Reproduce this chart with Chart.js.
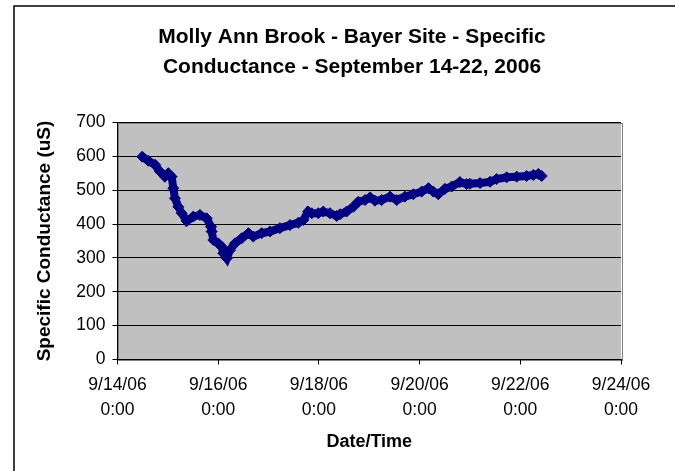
<!DOCTYPE html>
<html><head><meta charset="utf-8">
<script src="https://cdn.jsdelivr.net/npm/chart.js@4.4.0/dist/chart.umd.min.js"></script>
<style>html,body{margin:0;padding:0;background:#fff;overflow:hidden}canvas{display:block}</style>
</head><body>
<canvas id="c" width="675" height="471" style="width:675px;height:471px"></canvas>
<script>
const titleLines = ['Molly Ann Brook - Bayer Site - Specific', 'Conductance - September 14-22, 2006'];
const yAxisTitle = 'Specific Conductance (uS)';
const xAxisTitle = 'Date/Time';
const dateLabels = ['9/14/06', '9/16/06', '9/18/06', '9/20/06', '9/22/06', '9/24/06'];
const timeLabel = '0:00';
// hours after 9/14/06 0:00
const hoursSinceStart = [11.8, 14.7, 17.9, 20.3, 22.6, 24.2, 25.8, 26.6, 27.4, 29.0, 30.6, 33.0, 36.1, 39.3, 42.5, 44.6, 44.9, 45.7, 48.0, 49.7, 50.4, 52.1, 53.6, 56.0, 59.2, 62.4, 64.7, 68.7, 72.7, 77.4, 82.2, 86.2, 88.6, 90.9, 92.6, 95.7, 98.1, 101.3, 104.5, 106.1, 109.2, 112.4, 114.8, 118.0, 120.4, 122.7, 125.9, 129.9, 133.1, 137.0, 141.0, 145.0, 148.2, 150.5, 152.9, 156.1, 159.3, 163.2, 166.4, 168.0, 172.8, 177.6, 180.7, 185.5, 190.3, 195.0, 198.2, 200.6, 202.2];
const conductance = [599, 587, 575, 555, 540, 550, 540, 506, 476, 451, 432, 409, 422, 427, 417, 392, 378, 353, 343, 333, 314, 299, 323, 343, 358, 373, 363, 373, 378, 388, 397, 404, 412, 437, 432, 432, 437, 432, 424, 429, 437, 451, 466, 471, 479, 469, 471, 481, 471, 481, 488, 496, 506, 496, 488, 504, 511, 524, 518, 519, 521, 525, 533, 538, 540, 542, 545, 548, 542];
const yMin = 0, yMax = 700, yStep = 100;
const xMinHours = 0, xMaxHours = 240, xStepHours = 48;

const FONT = "'Liberation Sans', Arial, sans-serif";
const points = hoursSinceStart.map((h, i) => ({x: h, y: conductance[i]}));

const decor = {
  id: 'decor',
  beforeDraw(chart) {
    const {ctx, chartArea: a} = chart;
    ctx.save();
    ctx.fillStyle = '#ffffff';
    ctx.fillRect(0, 0, chart.width, chart.height);
    ctx.strokeStyle = '#000000';
    ctx.lineWidth = 1.5;
    ctx.strokeRect(14, 6, 700, 500);
    ctx.fillStyle = '#c0c0c0';
    ctx.fillRect(a.left, a.top, a.right - a.left, a.bottom - a.top);
    ctx.strokeStyle = '#808080';
    ctx.lineWidth = 1;
    ctx.strokeRect(Math.round(a.left) + 0.5, Math.round(a.top) + 0.5, Math.round(a.right - a.left), Math.round(a.bottom - a.top));
    ctx.restore();
  },
  afterDraw(chart) {
    const {ctx, chartArea: a} = chart;
    ctx.save();
    ctx.fillStyle = '#000';
    ctx.textAlign = 'center';
    ctx.textBaseline = 'middle';
    ctx.font = 'bold 21px ' + FONT;
    titleLines.forEach((t, i) => ctx.fillText(t, 352, 37.5 + i * 30));
    ctx.translate(45, (a.top + a.bottom) / 2);
    ctx.rotate(-Math.PI / 2);
    ctx.font = 'bold 19px ' + FONT;
    ctx.fillText(yAxisTitle, 0, 0);
    ctx.restore();
  }
};

new Chart(document.getElementById('c'), {
  type: 'scatter',
  data: {
    datasets: [{
      data: points,
      showLine: true,
      borderColor: '#000080',
      backgroundColor: '#000080',
      borderWidth: 8,
      tension: 0,
      pointStyle: 'rectRot',
      pointRadius: 5.5,
      pointBorderWidth: 1,
      pointBackgroundColor: '#000080',
      pointBorderColor: '#000080'
    }]
  },
  options: {
    responsive: false,
    animation: false,
    events: [],
    layout: {padding: {top: 122.5, right: 54, bottom: 0, left: 0}},
    plugins: {legend: {display: false}, title: {display: false}, tooltip: {enabled: false}},
    scales: {
      x: {
        type: 'linear',
        min: xMinHours, max: xMaxHours,
        afterFit(s) { s.height = 111.5; },
        grid: {drawOnChartArea: false, drawTicks: true, tickLength: 5, color: '#000', lineWidth: 1},
        border: {color: '#000', width: 1},
        ticks: {
          stepSize: xStepHours, autoSkip: false, maxRotation: 0, padding: 8,
          color: '#000', font: {family: FONT, size: 17.5, lineHeight: '25px'},
          callback: (v) => [dateLabels[Math.round((v - xMinHours) / xStepHours)], timeLabel]
        },
        title: {display: true, text: xAxisTitle, color: '#000', font: {family: FONT, size: 18, weight: 'bold', lineHeight: '20px'}, padding: {top: 0, bottom: 19}}
      },
      y: {
        min: yMin, max: yMax,
        afterFit(s) { s.width = 117.5; },
        grid: {color: '#000', lineWidth: 1, drawTicks: true, tickLength: 5},
        border: {color: '#000', width: 1},
        ticks: {stepSize: yStep, padding: 7, color: '#000', font: {family: FONT, size: 17.5}}
      }
    }
  },
  plugins: [decor]
});
</script>
</body></html>
